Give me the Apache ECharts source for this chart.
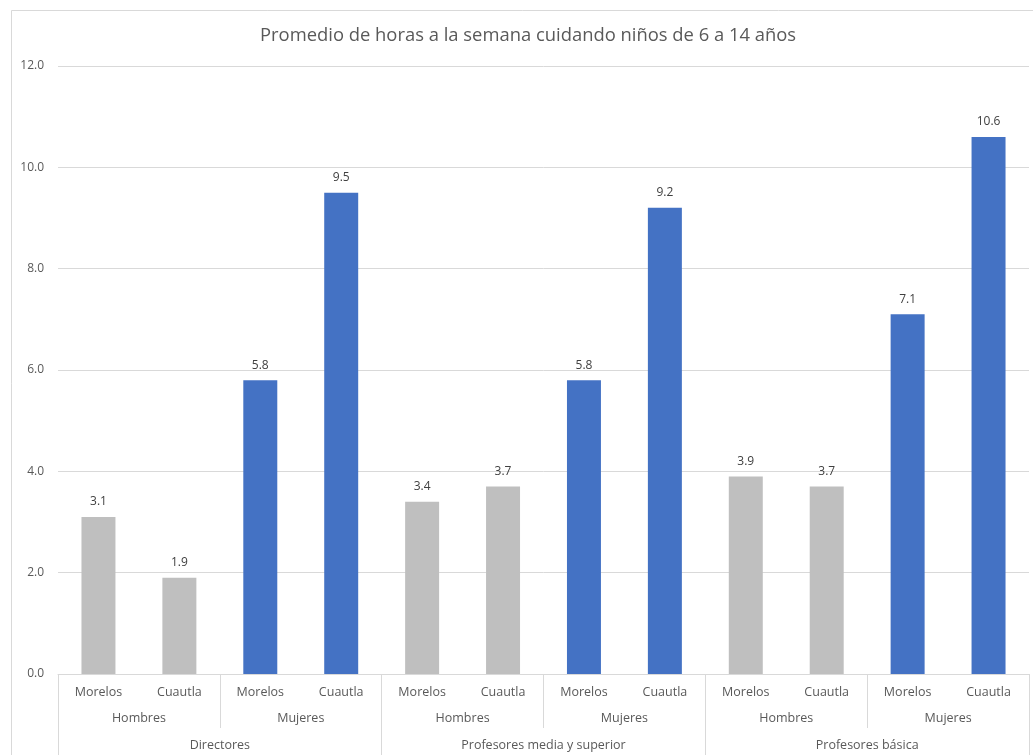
<!DOCTYPE html>
<html>
<head>
<meta charset="utf-8">
<script src="https://cdn.jsdelivr.net/npm/echarts@6/dist/echarts.min.js"></script>
<style>
  html, body { margin: 0; padding: 0; background: #fff; }
  #chart { width: 1033px; height: 755px; }
</style>
</head>
<body>
<div id="chart"></div>
<script>
// Etiquetas de los tres niveles del eje de categorías
const municipios = ['Morelos', 'Cuautla', 'Morelos', 'Cuautla', 'Morelos', 'Cuautla',
                    'Morelos', 'Cuautla', 'Morelos', 'Cuautla', 'Morelos', 'Cuautla'];
const sexos = ['Hombres', 'Mujeres', 'Hombres', 'Mujeres', 'Hombres', 'Mujeres'];
const puestos = ['Directores', 'Profesores media y superior', 'Profesores básica'];

// Promedio de horas semanales por categoría
const horas = [3.1, 1.9, 5.8, 9.5, 3.4, 3.7, 5.8, 9.2, 3.9, 3.7, 7.1, 10.6];
const esMujer = [false, false, true, true, false, false, true, true, false, false, true, true];

const yTicks = [0, 2, 4, 6, 8, 10, 12];

const GRIS = '#BFBFBF';
const AZUL = '#4472C4';
const LINEA = '#D9D9D9';
const TEXTO = '#595959';
const FUENTE = 'Open Sans, sans-serif';

const chart = echarts.init(document.getElementById('chart'));

chart.setOption({
  animation: false,
  backgroundColor: '#fff',
  title: {
    text: 'Promedio de horas a la semana cuidando niños de 6 a 14 años',
    left: 255,
    top: 22,
    textStyle: { fontFamily: FUENTE, fontSize: 18.4, fontWeight: 'normal', color: TEXTO }
  },
  graphic: [{
    type: 'rect',
    shape: { x: 11.5, y: 10.5, width: 1100, height: 800 },
    style: { fill: 'none', stroke: LINEA, lineWidth: 1 },
    silent: true,
    z: -1
  }],
  grid: { left: 58, right: 4, top: 66, bottom: 81, containLabel: false },
  xAxis: [
    {
      type: 'category',
      data: municipios,
      position: 'bottom',
      axisLine: { show: true, lineStyle: { color: LINEA } },
      axisTick: { show: false },
      axisLabel: { margin: 12, color: TEXTO, fontSize: 12.5, fontFamily: FUENTE, interval: 0 }
    },
    {
      type: 'category',
      data: sexos,
      position: 'bottom',
      axisLine: { show: false },
      axisTick: { show: true, length: 54, lineStyle: { color: LINEA }, interval: 0 },
      axisLabel: { margin: 38, color: TEXTO, fontSize: 12.5, fontFamily: FUENTE, interval: 0 }
    },
    {
      type: 'category',
      data: puestos,
      position: 'bottom',
      axisLine: { show: false },
      axisTick: { show: true, length: 82, lineStyle: { color: LINEA }, interval: 0 },
      axisLabel: { margin: 65, color: TEXTO, fontSize: 12.5, fontFamily: FUENTE, interval: 0 }
    }
  ],
  yAxis: {
    type: 'value',
    min: 0,
    max: 12,
    interval: 2,
    axisLine: { show: false },
    axisTick: { show: false },
    splitLine: { lineStyle: { color: LINEA } },
    axisLabel: {
      margin: 14,
      color: TEXTO,
      fontSize: 12,
      fontFamily: FUENTE,
      formatter: v => yTicks.includes(v) ? v.toFixed(1) : ''
    }
  },
  series: [{
    type: 'bar',
    xAxisIndex: 0,
    barWidth: '42%',
    data: horas.map((v, i) => ({ value: v, itemStyle: { color: esMujer[i] ? AZUL : GRIS } })),
    label: {
      show: true,
      position: 'top',
      distance: 9,
      color: '#404040',
      fontSize: 12,
      fontFamily: FUENTE,
      formatter: p => p.value.toFixed(1)
    }
  }]
});
</script>
</body>
</html>
